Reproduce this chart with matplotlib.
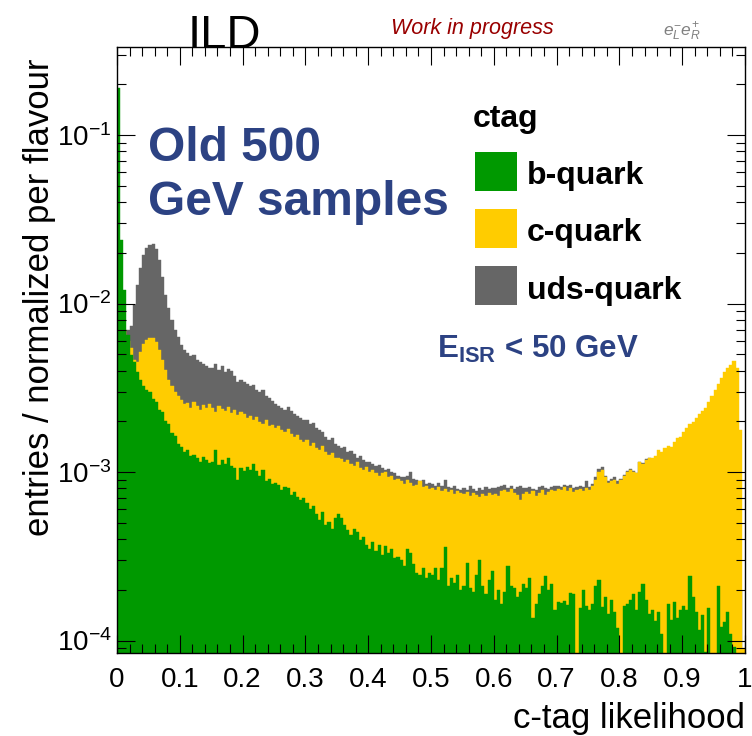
import numpy as np
import matplotlib
matplotlib.use("Agg")
import matplotlib.pyplot as plt
from matplotlib.patches import Rectangle
from matplotlib.ticker import MultipleLocator, LogLocator, FuncFormatter, NullFormatter

plt.rcParams["font.family"] = ["Liberation Sans", "DejaVu Sans"]
plt.rcParams["mathtext.fontset"] = "custom"
plt.rcParams["mathtext.rm"] = "Liberation Sans"
plt.rcParams["mathtext.it"] = "Liberation Sans:italic"
plt.rcParams["mathtext.bf"] = "Liberation Sans:bold"

GREEN = "#009900"
YELLOW = "#ffcc00"
GREY = "#666666"
NAVY = "#2c4283"

# c-tag likelihood, 200 bins on [0, 1]
edges = np.linspace(0.0, 1.0, 201)

# bin contents, entries / normalized per flavour, in units of 1e-5
b_quark = np.array([
    19000, 2380, 1203, 650, 495, 447, 392, 352, 323, 307,
    298, 270, 260, 233, 227, 201, 193, 171, 164, 147,
    141, 131, 135, 124, 126, 121, 115, 122, 118, 113,
    115, 135, 110, 118, 112, 121, 108, 106, 90, 106,
    102, 107, 103, 112, 101, 95, 103, 89, 91, 85,
    86, 84, 78, 81, 80, 73, 76, 71, 68, 70,
    65.5, 60, 63, 56, 52, 58, 48.5, 50.5, 46, 53.5,
    56, 53.5, 48.5, 45, 42, 46, 44, 39.5, 41, 37,
    35, 38.5, 34, 37, 32, 36.5, 33, 35, 31, 31.5,
    30, 27.5, 35, 33, 28.5, 25, 24.5, 27, 23.5, 25,
    24.5, 27, 23, 27, 36, 21, 23.5, 22, 24.5, 20,
    21, 29, 20.5, 19.5, 24.5, 30, 21, 19, 23, 26,
    17.4, 20, 16.5, 19.5, 27.5, 21, 20.5, 18, 19.5, 21.5,
    20.5, 23.5, 13.6, 16.5, 19, 21, 24, 20, 21.5, 15.2,
    17, 16.8, 17.2, 16.2, 19.2, 19, 7.5, 15.6, 20, 16,
    15.2, 16.5, 21, 23, 15.9, 18, 14.4, 17.4, 14.8, 11.8,
    7.8, 16, 16.5, 17.4, 19, 15.2, 19.5, 21.5, 17.4, 14.4,
    15.2, 13, 14.8, 10.9, 8, 16.5, 13.2, 17, 13.6, 15.2,
    16, 15.2, 24, 18, 14.8, 11.5, 14.2, 8.6, 15.6, 7.5,
    8, 21, 12.1, 12.8, 14.8, 10.9, 9.2, 7, 0, 0,
]) * 1e-5

c_quark = np.array([
    1200, 900, 700, 600, 544, 462, 448, 515, 575, 607,
    623, 623, 590, 530, 462, 403, 352, 324, 298, 283,
    267, 253, 256, 240, 260, 247, 233, 250, 240, 253,
    240, 227, 247, 237, 230, 243, 224, 233, 218, 227,
    221, 210, 215, 204, 212, 199, 193, 204, 187, 190,
    183, 187, 178, 173, 180, 168, 162, 166, 155, 151,
    155, 143, 149, 139, 135, 143, 132, 126, 130, 121,
    121, 120, 115, 118, 112, 108, 115, 106, 103, 107,
    100, 103, 98, 95, 99, 100, 93, 95, 90, 91,
    89, 85, 90, 86, 83, 84, 88, 82, 83, 79,
    80, 78, 82, 77, 79, 76, 78, 74, 77, 75,
    74, 76, 72, 75, 73, 71, 74, 72, 75, 73,
    74, 72, 77, 78, 76, 79, 75, 73, 68, 74,
    76, 74, 77, 72, 75, 78, 73, 76, 78, 77,
    79, 78, 82, 77, 80, 76, 78, 79, 77, 80,
    78, 83, 90, 100, 103, 93, 86, 89, 90, 85,
    90, 95, 100, 103, 100, 98, 115, 112, 118, 121,
    121, 124, 135, 132, 139, 143, 141, 151, 159, 162,
    173, 183, 193, 199, 210, 221, 230, 240, 260, 283,
    307, 333, 362, 392, 414, 432, 458, 414, 178, 9,
]) * 1e-5

uds_quark = np.array([
    2000, 1000, 700, 700, 736, 980, 1288, 1620, 1941, 2130,
    2220, 2250, 2100, 1813, 1440, 1123, 940, 798, 696, 632,
    567, 530, 512, 488, 495, 462, 450, 438, 425, 414,
    414, 438, 403, 425, 392, 409, 398, 372, 342, 352,
    342, 333, 324, 328, 307, 298, 307, 283, 275, 264,
    253, 247, 240, 233, 243, 230, 221, 215, 210, 204,
    204, 193, 196, 183, 178, 173, 162, 155, 159, 147,
    143, 139, 141, 132, 133, 128, 121, 124, 118, 115,
    115, 112, 108, 110, 106, 103, 104, 100, 98, 95,
    94, 93, 95, 100, 91, 90, 88, 90, 85, 86,
    85, 83, 86, 83, 90, 82, 80, 83, 79, 78,
    80, 78, 83, 79, 77, 80, 78, 82, 79, 80,
    80, 82, 83, 84, 80, 83, 79, 82, 83, 80,
    80, 82, 79, 78, 82, 83, 80, 79, 82, 83,
    83, 82, 84, 83, 84, 80, 82, 83, 82, 88,
    82, 85, 93, 104, 107, 95, 89, 91, 93, 88,
    91, 96, 102, 104, 102, 99, 115, 113, 120, 121,
    110, 108, 106, 105, 103, 102, 100, 98, 97, 95,
    93, 92, 90, 88, 86, 85, 83, 80, 78, 75,
    72, 68, 64, 60, 55, 50, 45, 40, 20, 5,
]) * 1e-5

flavours = ["b-quark", "c-quark", "uds-quark"]
colours = [GREEN, YELLOW, GREY]

W, H = 752, 736
fig = plt.figure(figsize=(W / 100, H / 100), dpi=100)
ax = fig.add_axes([117 / W, 83 / H, 628 / W, 606 / H])

ymin, ymax = 8.43e-5, 0.333
floor = 1e-6

# overlaid histograms, uds behind, b in front
for vals, col in [(uds_quark, GREY), (c_quark, YELLOW), (b_quark, GREEN)]:
    ax.stairs(np.where(vals > 0, vals, floor), edges, baseline=floor,
              fill=True, facecolor=col, edgecolor=col, linewidth=0.3)

ax.set_yscale("log")
ax.set_xlim(0, 1)
ax.set_ylim(ymin, ymax)

ax.xaxis.set_major_locator(MultipleLocator(0.1))
ax.xaxis.set_minor_locator(MultipleLocator(0.02))
ax.xaxis.set_major_formatter(FuncFormatter(lambda v, p: f"{v:g}"))
ax.yaxis.set_major_locator(LogLocator(base=10))
ax.yaxis.set_minor_locator(LogLocator(base=10, subs=np.arange(2, 10)))
ax.yaxis.set_minor_formatter(NullFormatter())

ax.tick_params(which="both", direction="in", top=True, right=True,
               width=0.8, color="black")
ax.tick_params(which="major", length=13)
ax.tick_params(which="minor", length=6.5)
ax.tick_params(axis="x", which="major", labelsize=20, pad=10)
ax.tick_params(axis="y", which="major", labelsize=20, pad=4)
for s in ax.spines.values():
    s.set_linewidth(1.0)

# axis titles
fig.text(745 / W, 1 - 728 / H, "c-tag likelihood", fontsize=25,
         ha="right", va="baseline")
fig.text(40 / W, 1 - 58 / H, "entries / normalized per flavour", fontsize=25,
         rotation=90, ha="center", va="top")

# header
fig.text(224 / W, 1 - 48 / H, "ILD", fontsize=34, ha="center", va="baseline")
fig.text(472 / W, 1 - 34 / H, "Work in progress", fontsize=15.5,
         style="italic", color="#990000", ha="center", va="baseline")
fig.text(682 / W, 1 - 36 / H, r"$e^{-}_{L}e^{+}_{R}$", fontsize=12.5,
         color="#808080", ha="center", va="baseline")

# sample description
fig.text(148 / W, 1 - 161 / H, "Old 500", fontsize=34.5, fontweight="bold",
         color=NAVY, va="baseline")
fig.text(148 / W, 1 - 215 / H, "GeV samples", fontsize=34.5, fontweight="bold",
         color=NAVY, va="baseline")
fig.text(437 / W, 1 - 358 / H, r"E$_{\mathbf{ISR}}$ < 50 GeV", fontsize=22.5,
         fontweight="bold", color=NAVY, va="baseline")

# legend
fig.text(473 / W, 1 - 127 / H, "ctag", fontsize=23, fontweight="bold",
         va="baseline")
box_tops = [152, 209, 266]
label_baselines = [184, 241, 299]
for name, col, top, base in zip(flavours, colours, box_tops, label_baselines):
    fig.add_artist(Rectangle((475 / W, 1 - (top + 39) / H), 42 / W, 39 / H,
                             transform=fig.transFigure, facecolor=col,
                             edgecolor="none"))
    fig.text(527 / W, 1 - base / H, name, fontsize=23, fontweight="bold",
             va="baseline")

fig.savefig("out.png", dpi=100)
